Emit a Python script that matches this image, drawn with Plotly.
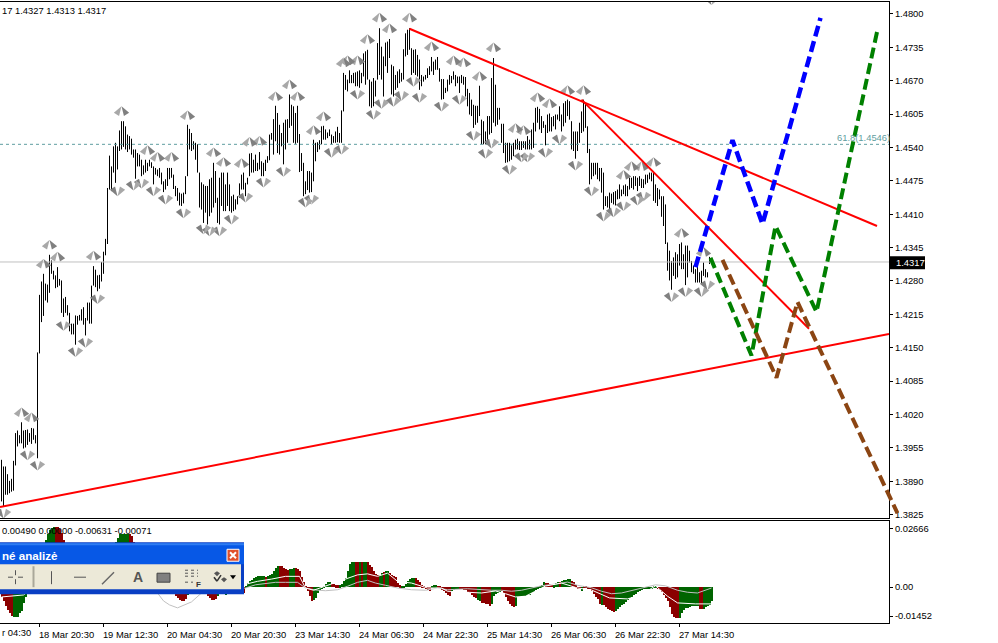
import plotly.graph_objects as go

# --- price bars (price x 10000), one pair per 30-minute bar ---
bar_high = [
13932,13919,13919,13904,13891,13895,13930,13984,13989,13980,14005,13989,13990,13991,13984,13994,13993,13980,
14141,14253,14279,14294,14275,14273,14331,14320,14300,14291,14307,14284,14281,14246,14249,14233,14218,14197,14197,14213,14212,14214,14225,14229,14208,14238,14238,14271,14309,14302,14291,14292,14317,14337,14362,
14461,14524,14503,14542,14549,14542,14573,14591,14591,14581,14565,14562,14557,14536,14536,14529,14526,14516,14505,14516,14510,14516,14511,14503,14500,14497,14500,14491,14474,14478,14500,14500,14500,14487,14465,14461,14452,14450,14452,14484,14584,14576,14568,14552,14549,14546,14491,14472,14468,14465,14465,14478,14481,14510,14494,14442,14481,14491,14491,14468,14491,14468,14445,14448,14439,14445,14470,14487,14491,14471,14481,14528,14529,14516,14526,14510,14531,14513,14510,14516,14523,14565,14568,14595,14621,14607,14584,14568,14588,14594,14595,14643,14623,14620,14607,14621,14566,14529,14510,14474,14494,14494,14491,14555,14549,14550,14554,14581,14582,14575,14569,14575,14565,14562,14571,14580,
14568,14612,14685,14681,14672,14690,14681,14685,14686,14688,14690,14685,14723,14727,14730,14672,14668,14675,14670,14743,14772,14736,14717,14744,14746,14751,14701,14698,14681,14688,14692,14685,14731,14762,14769,14772,14733,14730,14731,14720,14711,14681,14678,14681,14694,14698,14716,14707,14711,14716,14694,14673,14673,14656,14672,14681,14679,14688,14681,14678,14678,14681,14678,14677,14654,14646,14633,14623,14621,14621,14660,14594,14591,14571,14601,14601,14675,14714,14662,14617,14617,14586,14586,14549,14549,14549,14544,14549,14555,14557,14552,14552,14552,14552,14562,14555,14575,14588,14617,14619,14615,14601,14591,14584,14604,14606,14599,14601,14604,14604,14620,14604,14626,14630,14633,14630,14591,14571,14571,14571,14588,14610,14633,14626,14581,14537,14510,14510,14510,14510,14500,14500,14491,14445,14445,14452,14450,14453,14455,14458,14468,14458,14466,14468,14465,14481,14481,14484,14484,14481,14484,14479,14478,14487,14487,14491,14491,14492,14468,14461,14458,14445,14445,14429,
14355,14339,14319,14326,14336,14332,14352,14355,14332,14349,14349,14339,14319,14310,14303,14319,14297,14300,14316,14303,14297,14327]
bar_low = [
13851,13841,13864,13864,13867,13870,13872,13921,13958,13964,13964,13954,13956,13961,13967,13963,13971,13964,
13935,14139,14200,14212,14242,14238,14257,14294,14283,14266,14268,14271,14218,14210,14218,14213,14182,14176,14176,14156,14195,14203,14203,14195,14174,14203,14197,14197,14271,14268,14260,14265,14279,14294,14330,
14352,14458,14455,14491,14471,14497,14533,14536,14541,14536,14531,14536,14526,14520,14479,14503,14503,14484,14487,14491,14494,14503,14500,14468,14487,14484,14481,14468,14453,14458,14465,14478,14481,14459,14445,14436,14427,14426,14431,14449,14484,14536,14533,14536,14516,14491,14423,14419,14393,14413,14390,14406,14413,14423,14432,14393,14390,14426,14416,14416,14426,14416,14413,14416,14419,14429,14442,14458,14458,14445,14468,14484,14491,14491,14494,14494,14497,14484,14484,14494,14510,14515,14555,14526,14552,14529,14526,14542,14507,14536,14549,14578,14582,14549,14547,14549,14492,14494,14445,14449,14457,14452,14453,14474,14513,14531,14536,14546,14555,14555,14558,14562,14546,14549,14549,14550,
14549,14549,14610,14652,14649,14665,14665,14665,14659,14659,14656,14665,14678,14662,14672,14620,14617,14620,14639,14672,14681,14672,14639,14698,14685,14714,14643,14639,14652,14656,14665,14668,14672,14717,14720,14730,14681,14685,14681,14678,14652,14659,14668,14672,14675,14681,14688,14681,14691,14691,14668,14633,14634,14646,14649,14662,14665,14672,14659,14665,14646,14665,14662,14639,14620,14604,14601,14578,14584,14588,14601,14546,14546,14546,14555,14565,14568,14588,14581,14584,14594,14549,14529,14510,14511,14513,14516,14523,14536,14536,14535,14535,14539,14536,14536,14536,14536,14539,14571,14588,14575,14568,14578,14544,14568,14571,14571,14581,14575,14594,14591,14571,14581,14588,14601,14594,14536,14533,14518,14533,14549,14568,14571,14578,14529,14468,14478,14484,14487,14478,14474,14452,14419,14426,14423,14419,14432,14429,14427,14439,14440,14445,14449,14445,14445,14458,14461,14458,14465,14455,14465,14461,14461,14468,14471,14478,14474,14436,14432,14426,14439,14405,14387,14352,
14300,14281,14263,14290,14284,14287,14310,14303,14303,14272,14287,14316,14297,14294,14277,14277,14277,14274,14290,14287,14287,14313]

# --- fractal marks: bar number and price ---
frac_up_bar = [24,28,21,46,10,15,60,93,73,78,85,106,111,120,124,129,137,144,148,161,156,171,173,178,183,189,194,204,215,226,231,239,246,257,261,268,274,283,291,311,315,320,326,340,351]
frac_up_price = [14350,14327,14313,14329,14024,14014,14610,14602,14534,14521,14521,14530,14511,14509,14550,14552,14639,14662,14639,14600,14573,14705,14709,14709,14750,14792,14771,14792,14736,14709,14705,14678,14734,14577,14573,14637,14625,14651,14651,14486,14503,14503,14511,14373,14336]
frac_dn_bar = [1,13,18,31,37,42,48,58,66,70,76,82,91,101,104,109,115,122,131,141,152,155,165,170,178,186,190,196,200,206,209,220,229,236,242,245,254,260,263,272,279,287,295,301,306,311,318,321,335,342,350,353,355]
frac_dn_price = [13828,13941,13921,14193,14142,14160,14245,14455,14466,14470,14455,14439,14412,14381,14377,14377,14400,14443,14472,14493,14433,14439,14530,14536,14643,14604,14625,14629,14641,14668,14637,14620,14633,14563,14528,14548,14497,14521,14521,14530,14556,14505,14455,14406,14414,14426,14437,14445,14249,14259,14259,14272,14827]
FRAC_TIP = 10  # tip of the arrow glyph sits this far beyond the centre

# --- drawn analysis lines ---
trend_bars = [[-0.75, 443.75], [204, 437.75], [290, 403.75]]
trend_prices = [[13840, 14177], [14771, 14387], [14633, 14187]]
blue_bars = [347, 365.5, 380.5, 409.5]
blue_prices = [14307, 14554, 14391, 14792]
green_bars = [354.5, 375, 387, 407.5, 438]
green_prices = [14325, 14135, 14387, 14220, 14769]
brown_bars = [360.5, 387.5, 398, 448]
brown_prices = [14321, 14092, 14239, 13828]
last_price = 14317
fib_price = 14546
price_ticks = [14800, 14735, 14670, 14605, 14540, 14475, 14410, 14345, 14280, 14215, 14150, 14085, 14020, 13955, 13890, 13825]

# --- oscillator, units of 0.0001 ---
osc_hist = [
-40,-56,-76,-92,-104,-116,-120,-120,-120,-104,-96,-64,
-40,-20,0,24,48,72,96,120,144,168,
192,216,232,240,244,244,244,236,220,192,
168,144,120,104,88,80,72,72,80,88,96,104,104,96,88,88,96,104,112,120,128,136,144,160,176,
184,200,216,216,216,216,216,216,208,184,
160,144,128,112,104,96,88,80,72,64,56,48,40,32,24,16,8,4,-8,
-24,-36,-44,-52,-56,-56,-48,-32,-20,
-12,-8,-4,-4,4,-4,-12,
-28,-36,-44,-52,-52,-48,-36,-28,-28,-28,-32,-28,-24,-24,-20,-20,-24,-28,-28,-24,
4,16,24,28,36,40,44,44,44,44,40,44,48,52,64,76,84,84,84,76,72,68,72,72,76,76,72,64,40,20,4,-16,-36,-56,-52,-44,-24,-12,-4,4,12,20,20,12,12,8,8,8,12,24,36,64,92,100,100,100,100,100,100,100,100,100,88,80,64,52,48,48,56,60,64,64,56,48,44,40,16,8,4,4,12,24,32,36,36,36,28,20,8,4,-4,-12,-16,4,8,8,4,4,-12,-16,-24,-32,-36,-20,-12,-8,-4,-4,-8,-12,-12,-20,-24,-32,-40,-44,-52,-56,
-64,-64,-68,-68,-76,-68,-36,-28,-24,-20,
-16,-24,-40,-56,-68,-76,-80,-76,-40,-40,
-36,-36,-36,-32,-32,-24,-20,-12,-4,4,
8,20,16,16,12,12,8,16,20,20,
24,28,28,32,32,24,20,8,-4,-8,
-16,4,4,-4,-8,-16,-28,-40,-48,-68,
-72,-72,-80,-88,-92,-96,-100,-96,-88,-80,
-72,-68,-60,-52,-44,-40,-32,-28,-20,-16,
-12,-8,-8,-4,-4,-4,4,4,-4,-12,
-20,-32,-44,-56,-80,-108,-120,-124,-124,-124,
-104,-92,-84,-84,-80,-76,-76,-76,-76,-88,
-88,-88,-80,-76,-72,-56]
osc_up_runs = [(0,6),(1,21),(0,5),(0,10),(1,15),(1,7),(0,3),(0,19),(0,7),(1,2),(1,7),(0,6),(1,8),(0,6),
(1,10),(0,1),(1,6),(0,5),(1,3),(0,9),(1,9),(0,4),(1,8),(0,2),(1,1),(0,1),(1,2),(0,6),(1,2),(0,1),(1,2),(0,6),(1,7),(0,8),(1,3),(0,7),(1,4),(0,9),(1,2),
(0,5),(1,5),(0,7),(1,15),(0,4),(1,3),(0,1),(1,5),(0,5),(1,1),(0,9),(1,1),(0,6),(1,21),(0,11),(1,10),(0,2),(1,5)]
signal_bar = [0,6,12,20,40,52,57,75,78,81,84,88,92,95,100,105,115,122,127,132,137,142,148,152,157,162,168,173,178,183,187,192,198,205,212,218,223,233,240,245,250,255,260,265,270,277,283,288,295,300,305,310,317,327,332,338,343,348,355]
signal_val = [-24,-24,-24,-16,-16,-24,-20,-24,-24,-56,-72,-84,-72,-60,-24,-16,-12,-4,9,13,19,19,19,-4,-12,-15,-11,3,19,27,16,7,-4,-11,-13,-4,-11,-7,-11,-13,-13,-17,-13,-3,5,12,20,7,-3,-17,-27,-24,-11,9,5,-13,-21,-24,-4]
macd_bar = [0,6,11,20,30,60,100,123,128,135,142,149,152,156,173,178,183,188,193,198,205,213,220,223,240,247,252,257,262,267,272,280,288,295,300,304,313,320,327,333,338,347,355]
macd_val = [-40,-36,-32,20,60,100,-10,13,23,32,43,43,-4,-13,36,49,53,43,56,23,16,-4,-4,-17,-24,-16,-27,-40,-37,-17,4,16,-4,-12,-31,-44,-48,-31,5,-37,-64,-68,-68]

date_bars = [19, 51, 83, 115, 147, 179, 211, 243, 275, 307, 339]
date_labels = ["18 Mar 20:30", "19 Mar 12:30", "20 Mar 04:30", "20 Mar 20:30", "23 Mar 14:30", "24 Mar 06:30",
               "24 Mar 22:30", "25 Mar 14:30", "26 Mar 06:30", "26 Mar 22:30", "27 Mar 14:30"]

assert len(bar_high) == len(bar_low), (len(bar_high), len(bar_low))
assert len(signal_bar) == len(signal_val)
W, H = 998, 643
FONT = "Liberation Sans, sans-serif"
FS = 9.4
GRAY = "#808080"

def px(x): return x / W
def py(y): return 1 - y / H
def scale(v): return [a / 10000 for a in v]

fig = go.Figure()

# bars as vertical strokes
xs, ys = [], []
for i, (h, l) in enumerate(zip(bar_high, bar_low)):
    xs += [i, i, None]
    ys += [l / 10000, h / 10000, None]
fig.add_trace(go.Scatter(x=xs, y=ys, mode="lines", line=dict(color="black", width=1), hoverinfo="skip", connectgaps=False))

# horizontal levels
fig.add_trace(go.Scatter(x=[-0.75, 443.75], y=[fib_price / 10000] * 2, mode="lines",
                         line=dict(color="#5f9ea0", width=1, dash="3px,3px")))
fig.add_trace(go.Scatter(x=[-0.75, 443.75], y=[last_price / 10000] * 2, mode="lines",
                         line=dict(color="#c0c0c0", width=1)))

# fractals: two splayed arrow glyphs meeting at a tip
for angle, color in [(32, "#a8a8a8"), (-32, "#808080")]:
    fig.add_trace(go.Scatter(x=frac_up_bar, y=[(p + FRAC_TIP) / 10000 for p in frac_up_price], mode="markers",
                             marker=dict(symbol="arrow", size=10, color=color, angle=angle, line=dict(width=0))))
for angle, color in [(148, "#808080"), (212, "#a8a8a8")]:
    fig.add_trace(go.Scatter(x=frac_dn_bar, y=[(p - FRAC_TIP) / 10000 for p in frac_dn_price], mode="markers",
                             marker=dict(symbol="arrow", size=10, color=color, angle=angle, line=dict(width=0))))

# trend lines
for bx, bp in zip(trend_bars, trend_prices):
    fig.add_trace(go.Scatter(x=bx, y=scale(bp), mode="lines", line=dict(color="#ff0000", width=2)))

# waves
fig.add_trace(go.Scatter(x=blue_bars, y=scale(blue_prices), mode="lines", line=dict(color="#0000ff", width=4.5, dash="11px,5px")))
fig.add_trace(go.Scatter(x=green_bars, y=scale(green_prices), mode="lines", line=dict(color="#008000", width=4, dash="11px,5px")))
# the brown wave runs past the right edge of the price panel, so it gets a slightly wider free axis pair
fig.add_trace(go.Scatter(x=brown_bars, y=scale(brown_prices), mode="lines", xaxis="x3", yaxis="y3",
                         line=dict(color="#8b4513", width=4, dash="11px,5px")))

# oscillator
osc_up = []
for flag, n in osc_up_runs:
    osc_up += [flag] * n
assert len(osc_up) == len(osc_hist), (len(osc_up), len(osc_hist))
fig.add_trace(go.Bar(x=list(range(len(osc_hist))), y=[v / 10000 for v in osc_hist], width=1,
                     marker=dict(color=["#006400" if u else "#8b0000" for u in osc_up], line=dict(width=0)),
                     xaxis="x2", yaxis="y2"))
fig.add_trace(go.Scatter(x=signal_bar, y=[v / 10000 for v in signal_val], mode="lines",
                         line=dict(color="#c0c0c0", width=1), xaxis="x2", yaxis="y2"))
fig.add_trace(go.Scatter(x=macd_bar, y=[v / 10000 for v in macd_val], mode="lines",
                         line=dict(color="#ffffff", width=1), xaxis="x2", yaxis="y2"))

# --- floating toolbar ---
def rect(x0, y0, x1, y1, fill, line=None, lw=0):
    return dict(type="rect", xref="paper", yref="paper", x0=px(x0), x1=px(x1), y0=py(y0), y1=py(y1),
                fillcolor=fill, line=dict(color=line or fill, width=lw), layer="above")
def seg(x0, y0, x1, y1, color="#555555", w=1, dash=None):
    return dict(type="line", xref="paper", yref="paper", x0=px(x0), x1=px(x1), y0=py(y0), y1=py(y1),
                line=dict(color=color, width=w, dash=dash), layer="above")
def poly(points, fill):
    path = "M" + " L".join(f"{px(a):.5f},{py(b):.5f}" for a, b in points) + " Z"
    return dict(type="path", xref="paper", yref="paper", path=path, fillcolor=fill, line=dict(width=0), layer="above")

shapes = [
    rect(0, 544, 244, 596, "#0a3fc4"),
    rect(0, 545, 244, 566, "#0758e6"),
    rect(0, 545, 244, 547, "#2f7cf2"),
    rect(0, 566, 241, 591, "#ece9d8"),
    rect(227, 551, 239, 563, "#e0502c", "#ffffff", 1),
    seg(230, 554, 236, 560, "#ffffff", 2), seg(236, 554, 230, 560, "#ffffff", 2),
    seg(8, 579, 13, 579), seg(18, 579, 23, 579), seg(15.5, 572, 15.5, 577), seg(15.5, 581, 15.5, 586),
    seg(33.5, 568, 33.5, 589, "#aaa89a", 2),
    seg(51.5, 573, 51.5, 586), seg(74, 579, 86, 579), seg(102, 586, 114, 574, "#666666", 1.5),
    rect(157, 575, 170, 584, GRAY, "#444444", 1),
    seg(185, 572, 198, 572, "#555555", 1, "dot"), seg(185, 575, 198, 575, "#555555", 1, "dot"),
    seg(185, 578, 198, 578, "#555555", 1, "dot"), seg(185, 584, 193, 584, "#555555", 1, "dot"),
    poly([(217, 573), (220, 575), (217, 578), (214, 575)], "#555555"),
    poly([(224, 579), (227, 581), (224, 584), (221, 581)], "#555555"),
    seg(214, 579, 217, 583, "#333333", 1.5), seg(217, 583, 221, 577, "#333333", 1.5),
    poly([(230, 577), (236, 577), (233, 581)], "#000000"),
    rect(890, 257, 925, 270, "#000000"),
]

def note(text, x, y, size=FS, color="black", anchor="left", family=FONT, **kw):
    return dict(text=text, xref="paper", yref="paper", x=px(x), y=py(y), xanchor=anchor, yanchor="middle",
                showarrow=False, font=dict(family=family, size=size, color=color), **kw)

annotations = [
    note("17 1.4327 1.4313 1.4317", 0, 10.5),
    note("0.00490 0.00000 -0.00631 -0.00071", 0, 532),
    note("61.8(1.4546)", 835, 138, color="#5f9ea0"),
    note("r 04:30", 0, 634),
    note("1.4317", 894, 263.5, color="white"),
    note("<b>né analizė</b>", 0, 557, size=11.6, color="white"),
    note("<b>A</b>", 131, 579, size=14, color="#555555"),
    note("<b>F</b>", 194, 586, size=8, color="#333333"),
]

axis_font = dict(family=FONT, size=FS, color="black")
fig.update_layout(
    width=W, height=H, margin=dict(l=0, r=0, t=0, b=0), paper_bgcolor="white", plot_bgcolor="rgba(0,0,0,0)",
    showlegend=False, barmode="overlay", bargap=0, hovermode=False, shapes=shapes, annotations=annotations, font=axis_font,
    xaxis=dict(domain=[0, px(889)], range=[-0.75, 443.75], showgrid=False, zeroline=False, showticklabels=False,
               ticks="", showline=True, mirror=True, linecolor="black", linewidth=1, anchor="y"),
    yaxis=dict(domain=[py(520), py(2)], range=[1.3818, 1.4823], side="right", showgrid=False, zeroline=False,
               tickvals=[t / 10000 for t in price_ticks], ticktext=[f"{t/10000:.4f}" for t in price_ticks],
               ticks="outside", ticklen=3, tickcolor="black", showline=True, linecolor="black", linewidth=1,
               anchor="x", tickfont=axis_font),
    xaxis2=dict(domain=[0, px(889)], range=[-0.75, 443.75], showgrid=False, zeroline=False,
                tickvals=date_bars, ticktext=date_labels, ticks="outside", ticklen=3, tickcolor="black",
                showline=True, mirror=True, linecolor="black", linewidth=1, anchor="y2", tickfont=axis_font,
                ticklabelshift=27, tickangle=0),
    yaxis2=dict(domain=[py(625), py(522.5)], range=[-0.01452, 0.02666], side="right", showgrid=False, zeroline=False,
                tickvals=[0.0237, 0, -0.0117], ticktext=["0.02666", "0.00", "-0.01452"],
                ticks="outside", ticklen=3, tickcolor="black", showline=True, linecolor="black", linewidth=1,
                anchor="x2", tickfont=axis_font),
    xaxis3=dict(domain=[0, px(899)], range=[-0.75, 448.75], visible=False, anchor="y3"),
    yaxis3=dict(domain=[py(520), py(2)], range=[1.3818, 1.4823], visible=False, anchor="x3"),
)
fig.write_html("out.html", config={"displayModeBar": False},
               post_script="document.body.style.margin='0';document.documentElement.style.overflow='hidden';")
